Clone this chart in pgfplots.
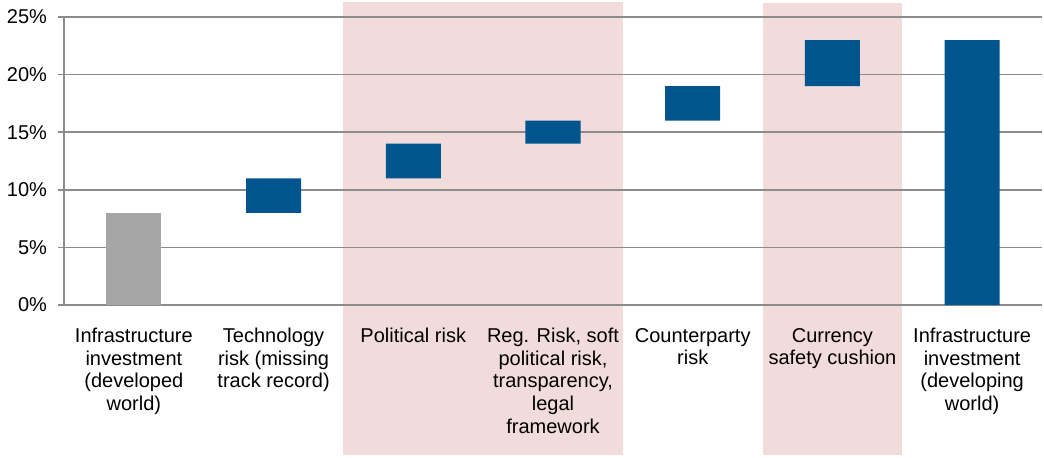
\documentclass[border=0pt]{standalone}
\usepackage{pgfplots}
\pgfplotsset{compat=1.18}
\usepackage{fontspec}
\setmainfont{Liberation Sans}

\definecolor{barblue}{HTML}{00558F}
\definecolor{bargray}{HTML}{A6A6A6}
\definecolor{bandpink}{HTML}{F2DCDB}
\definecolor{gridgray}{HTML}{8C8C8C}

\pgfplotsset{
  frame/.style={
    scale only axis,
    width=489pt, height=144pt,
    xmin=-0.5, xmax=6.5,
    ymin=0, ymax=25,
    clip=false,
  },
}

\begin{document}
\begin{tikzpicture}
% shaded bands behind the emerging-market risk categories
\begin{axis}[frame, hide axis]
\fill[bandpink] (axis cs:1.5,-13) rectangle (axis cs:3.5,26.3);
\fill[bandpink] (axis cs:4.5,-13) rectangle (axis cs:5.5,26.2);
\end{axis}

\begin{axis}[
  frame,
  ybar stacked,
  bar width=0.394,
  axis x line*=bottom,
  axis y line*=left,
  axis line style={gridgray, line width=0.8pt, -},
  ytick={0,5,...,25},
  yticklabel={\pgfmathprintnumber{\tick}\%},
  /pgf/number format/assume math mode=true,
  ymajorgrids,
  major grid style={gridgray, line width=0.8pt},
  tick align=outside,
  major tick length=3pt,
  minor tick length=3pt,
  ytick style={gridgray, line width=0.8pt},
  xtick={0,...,6},
  xtick style={draw=none},
  minor xtick={-0.5,0.5,...,6.5},
  minor x tick style={gridgray, line width=0.8pt},
  xticklabels={
    {Infrastructure\\investment\\(developed\\world)},
    {Technology\\risk (missing\\track record)},
    {Political risk},
    {Reg. Risk, soft\\political risk,\\transparency,\\legal\\framework},
    {Counterparty\\risk},
    {Currency\\safety cushion},
    {Infrastructure\\investment\\(developing\\world)}
  },
  tick label style={font=\fontsize{10}{11.35}\selectfont, text=black},
  xticklabel style={align=center, anchor=north, yshift=-5pt},
  yticklabel style={xshift=-2pt},
]
% invisible base of each floating bar
\addplot[draw=none, fill=none] coordinates {(0,0) (1,8) (2,11) (3,14) (4,16) (5,19) (6,0)};
% developed-world return
\addplot[draw=none, fill=bargray] coordinates {(0,8) (1,0) (2,0) (3,0) (4,0) (5,0) (6,0)};
% risk premia and developing-world total
\addplot[draw=none, fill=barblue] coordinates {(0,0) (1,3) (2,3) (3,2) (4,3) (5,4) (6,23)};
\end{axis}
\pgfresetboundingbox
\path (current axis.south west) ++(-32pt,-76pt) rectangle ++(522pt,228.5pt);
\end{tikzpicture}
\end{document}
